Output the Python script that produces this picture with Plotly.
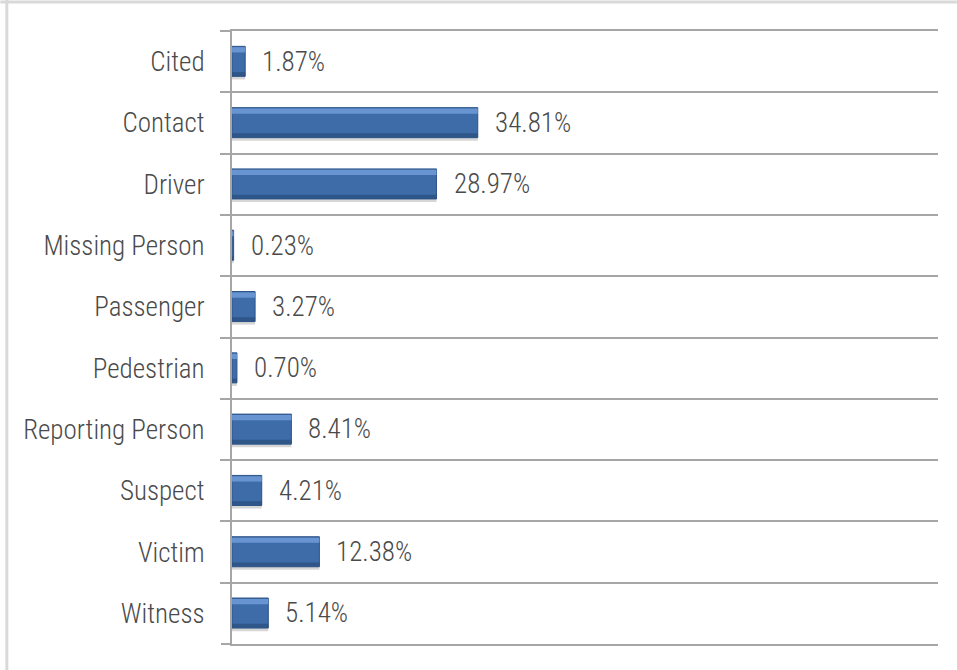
import plotly.graph_objects as go

categories = ["Cited", "Contact", "Driver", "Missing Person", "Passenger",
              "Pedestrian", "Reporting Person", "Suspect", "Victim", "Witness"]
values = [1.87, 34.81, 28.97, 0.23, 3.27, 0.70, 8.41, 4.21, 12.38, 5.14]
labels = ["1.87%", "34.81%", "28.97%", "0.23%", "3.27%",
          "0.70%", "8.41%", "4.21%", "12.38%", "5.14%"]

FONT = "Roboto Condensed, Liberation Sans Narrow, Arial Narrow, Roboto, sans-serif"
TXT = "#4a4a4a"
GRID = "#a6a6a6"

fig = go.Figure()

# soft shadow
fig.add_trace(go.Bar(y=categories, x=values, orientation="h",
                     offset=-0.21, width=0.5,
                     marker=dict(color="rgba(0,0,0,0.16)", line=dict(width=0)),
                     hoverinfo="skip", showlegend=False))
# main bar
fig.add_trace(go.Bar(y=categories, x=values, orientation="h",
                     offset=-0.25, width=0.49,
                     marker=dict(color="#3d6ca8", line=dict(color="#2e5488", width=1)),
                     showlegend=False))
# top highlight
fig.add_trace(go.Bar(y=categories, x=values, orientation="h",
                     offset=-0.235, width=0.085,
                     marker=dict(color="rgba(115,160,220,0.8)", line=dict(width=0)),
                     hoverinfo="skip", showlegend=False))
# bottom darker edge
fig.add_trace(go.Bar(y=categories, x=values, orientation="h",
                     offset=0.17, width=0.065,
                     marker=dict(color="rgba(40,75,120,0.65)", line=dict(width=0)),
                     hoverinfo="skip", showlegend=False))

for c, v, t in zip(categories, values, labels):
    fig.add_annotation(x=v, y=c, text=t, showarrow=False, xanchor="left",
                       xshift=15, font=dict(family=FONT, size=27, color=TXT, weight=300))

fig.update_layout(
    width=957, height=670, autosize=False,
    margin=dict(l=232, r=19, t=31, b=26),
    barmode="overlay",
    plot_bgcolor="white", paper_bgcolor="white",
    font=dict(family=FONT, size=27, color=TXT, weight=300),
    xaxis=dict(range=[0, 100], showgrid=False, zeroline=False,
               showticklabels=False, ticks="", fixedrange=True,
               showline=True, mirror=True, linecolor=GRID, linewidth=2),
    yaxis=dict(type="category", range=[9.5, -0.5], tickson="boundaries",
               showgrid=True, gridcolor=GRID, gridwidth=2,
               ticks="outside", ticklen=10, tickcolor=GRID, tickwidth=2,
               ticklabelstandoff=20,
               showline=True, linecolor=GRID, linewidth=2,
               tickfont=dict(family=FONT, size=27, color=TXT, weight=300)),
    shapes=[
        # outer chart border (top and left)
        dict(type="line", xref="paper", yref="paper", x0=-232/707, x1=1.1,
             y0=1 + 29/613, y1=1 + 29/613, line=dict(color="#d9d9d9", width=3)),
        dict(type="line", xref="paper", yref="paper", x0=-225.5/707, x1=-225.5/707,
             y0=1 + 31/613, y1=-0.1, line=dict(color="#d9d9d9", width=3)),
        # bottom boundary tick
        dict(type="line", xref="paper", yref="paper", x0=-11/707, x1=0,
             y0=0, y1=0, line=dict(color=GRID, width=2)),
    ],
)

fig.write_html("out.html", config={"displayModeBar": False},
               post_script="document.body.style.margin='0';")
